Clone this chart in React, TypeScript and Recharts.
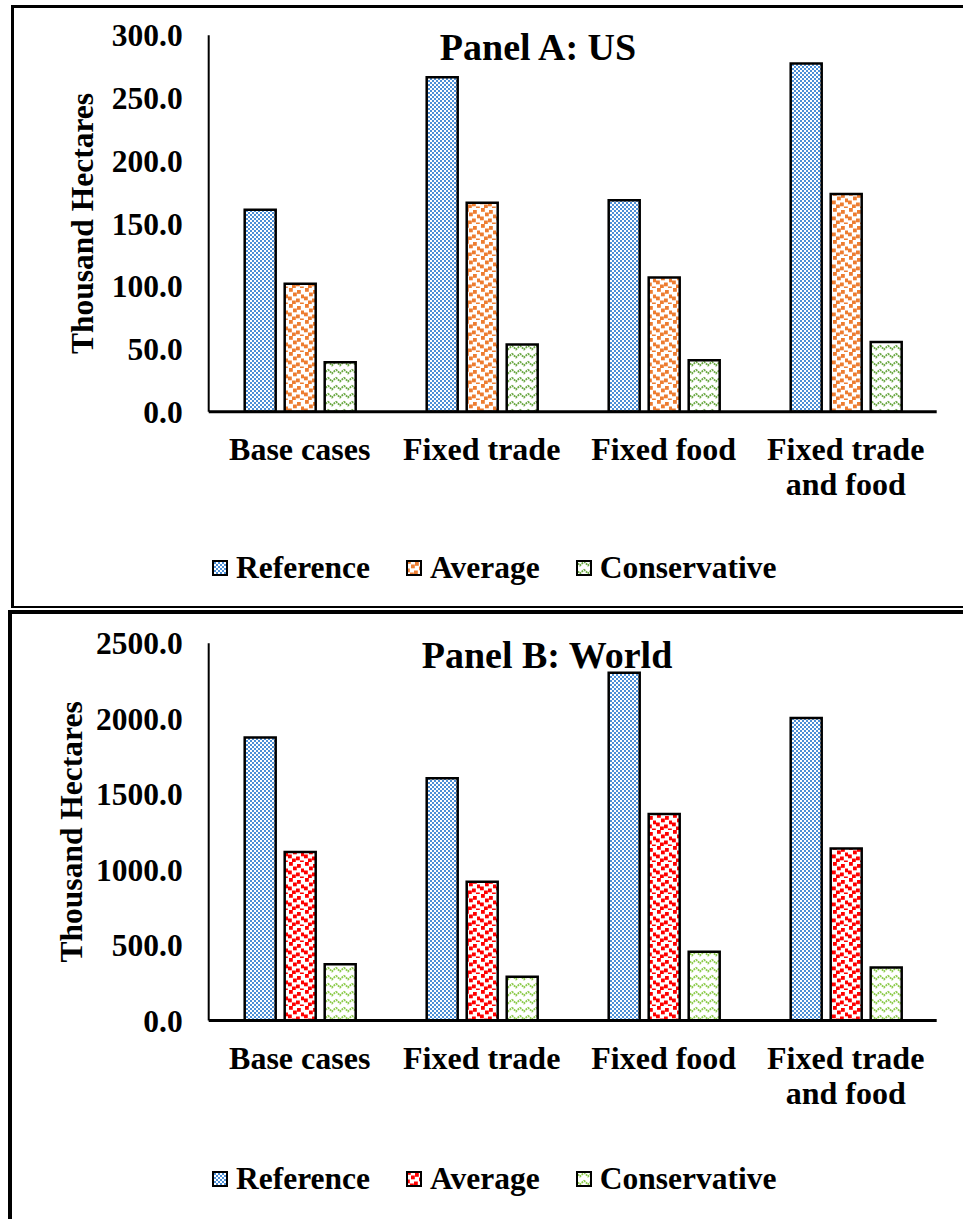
import React from 'react'
import { BarChart, Bar, XAxis, YAxis } from 'recharts'

const categories = ['Base cases', 'Fixed trade', 'Fixed food', 'Fixed trade and food']
const seriesNames = ['Reference', 'Average', 'Conservative']

const usReference = [161, 266.5, 168.5, 277.5]
const usAverage = [102, 166.5, 107, 173.5]
const usConservative = [39.5, 53.5, 41, 55.5]
const usTicks = [0, 50, 100, 150, 200, 250, 300]

const worldReference = [1875, 1605, 2305, 2005]
const worldAverage = [1117, 920, 1368, 1140]
const worldConservative = [372, 290, 455, 352]
const worldTicks = [0, 500, 1000, 1500, 2000, 2500]

const FONT = '"Liberation Serif", "Times New Roman", serif'
const W = 963
const H = 606

const toRows = (ref: number[], avg: number[], con: number[]) =>
  categories.map((name, i) => ({ name, reference: ref[i], average: avg[i], conservative: con[i] }))

const usData = toRows(usReference, usAverage, usConservative)
const worldData = toRows(worldReference, worldAverage, worldConservative)

// pattern fills, shared by bars and legend swatches
function PatternDefs() {
  const confetti = [
    [1, 0], [9, 2], [5, 4.5], [13, 6.5], [0, 8.5], [8, 10.5], [4, 12.5], [12, 14.5],
  ]
  const pat = (id: string, color: string) => (
    <pattern id={id} width={16} height={16} patternUnits="userSpaceOnUse">
      <rect width={16} height={16} fill="#fff" />
      {confetti.map(([x, y], i) => (
        <rect key={i} x={x} y={y} width={3.8} height={3.8} fill={color} />
      ))}
    </pattern>
  )
  const zig = (id: string, color: string) => (
    <pattern id={id} width={8} height={8} patternUnits="userSpaceOnUse">
      <rect width={8} height={8} fill="#fff" />
      <path d="M0,1.5 L4,5.5 L8,1.5" fill="none" stroke={color} strokeWidth={1.8} strokeDasharray="1.8 0.9" />
      <path d="M0,9.5 L4,13.5 L8,9.5" fill="none" stroke={color} strokeWidth={1.8} strokeDasharray="1.8 0.9" />
    </pattern>
  )
  return (
    <svg width={0} height={0} style={{ position: 'absolute' }}>
      <defs>
        <pattern id="pRef" width={4} height={4} patternUnits="userSpaceOnUse">
          <rect width={4} height={4} fill="#fff" />
          <rect width={2} height={2} fill="#4D8FD6" />
          <rect x={2} y={2} width={2} height={2} fill="#4D8FD6" />
        </pattern>
        {pat('pAvgA', '#ED7D31')}
        {pat('pAvgB', '#FF0000')}
        {zig('pConA', '#6AA842')}
        {zig('pConB', '#8CCB4A')}
      </defs>
    </svg>
  )
}

function CategoryTick(props: any) {
  const { x, y, payload } = props
  const words = String(payload.value).split(' ')
  const lines: string[] = []
  words.forEach((w) => {
    const last = lines[lines.length - 1]
    if (last && (last + ' ' + w).length <= 12) lines[lines.length - 1] = last + ' ' + w
    else lines.push(w)
  })
  return (
    <text x={x} y={y} textAnchor="middle" fill="#000" fontFamily={FONT} fontWeight={700} fontSize={32}>
      {lines.map((l, i) => (
        <tspan key={i} x={x} dy={i === 0 ? 48 : 35}>{l}</tspan>
      ))}
    </text>
  )
}

type PanelProps = {
  top: number
  title: string
  titleX: number
  labelX: number
  data: any[]
  ticks: number[]
  plotTop: number
  plotBottom: number
  avgFill: string
  conFill: string
  legendTop: number
}

function Panel(p: PanelProps) {
  const fills = ['url(#pRef)', p.avgFill, p.conFill]
  const max = p.ticks[p.ticks.length - 1]
  return (
    <>
      <div style={{ position: 'absolute', left: 0, top: p.top }}>
        <BarChart
          width={W}
          height={H}
          data={p.data}
          barGap={9}
          margin={{ top: p.plotTop, right: W - 936.7, bottom: H - p.plotBottom - 60, left: 108.7 }}
        >
          <XAxis
            dataKey="name"
            height={60}
            tickLine={false}
            tickSize={0}
            tickMargin={0}
            axisLine={{ stroke: '#000', strokeWidth: 3 }}
            tick={<CategoryTick />}
            interval={0}
          />
          <YAxis
            width={100}
            domain={[0, max]}
            ticks={p.ticks}
            tickFormatter={(v: number) => v.toFixed(1)}
            tickLine={false}
            tickSize={0}
            tickMargin={26}
            axisLine={{ stroke: '#000', strokeWidth: 2 }}
            tick={{ fill: '#000', fontSize: 31.5, fontWeight: 700, fontFamily: FONT }}
          />
          <Bar dataKey="reference" fill={fills[0]} stroke="#000" strokeWidth={2.5} barSize={31} isAnimationActive={false} />
          <Bar dataKey="average" fill={fills[1]} stroke="#000" strokeWidth={2.5} barSize={31} isAnimationActive={false} />
          <Bar dataKey="conservative" fill={fills[2]} stroke="#000" strokeWidth={2.5} barSize={31} isAnimationActive={false} />
        </BarChart>
      </div>
      <svg width={W} height={H} style={{ position: 'absolute', left: 0, top: p.top, pointerEvents: 'none' }}>
        <text x={p.titleX} y={p.plotTop + 25} textAnchor="middle" fontFamily={FONT} fontWeight={700} fontSize={38} fill="#000">
          {p.title}
        </text>
        <text
          transform={`translate(${p.labelX}, ${(p.plotTop + p.plotBottom) / 2}) rotate(-90)`}
          textAnchor="middle"
          fontFamily={FONT}
          fontWeight={700}
          fontSize={31.5}
          fill="#000"
        >
          Thousand Hectares
        </text>
      </svg>
      <div
        style={{
          position: 'absolute',
          left: 212,
          top: p.top + p.legendTop,
          height: 36,
          display: 'flex',
          alignItems: 'center',
          gap: 36,
          fontFamily: FONT,
          fontWeight: 700,
          fontSize: 31.5,
          lineHeight: '36px',
          whiteSpace: 'nowrap',
        }}
      >
        {seriesNames.map((n, i) => (
          <div key={n} style={{ display: 'flex', alignItems: 'center' }}>
            <svg width={16} height={16} style={{ marginRight: 8 }}>
              <rect x={1} y={1} width={14} height={14} fill={fills[i]} stroke="#000" strokeWidth={2} />
            </svg>
            <span>{n}</span>
          </div>
        ))}
      </div>
    </>
  )
}

export default function App() {
  return (
    <div style={{ position: 'absolute', left: 0, top: 0, width: W, height: 1219, overflow: 'hidden', background: '#fff' }}>
      <PatternDefs />
      {/* panel frames */}
      <div style={{ position: 'absolute', left: 11, top: 5, width: 980, height: 598, borderTop: '3px solid #000', borderLeft: '3px solid #000', borderBottom: '2px solid #000' }} />
      <div style={{ position: 'absolute', left: 8, top: 610, width: 980, height: 700, borderTop: '4px solid #000', borderLeft: '4px solid #000' }} />
      <Panel
        top={0}
        title="Panel A: US"
        titleX={538}
        labelX={93}
        data={usData}
        ticks={usTicks}
        plotTop={35.3}
        plotBottom={411.7}
        avgFill="url(#pAvgA)"
        conFill="url(#pConA)"
        legendTop={550}
      />
      <Panel
        top={606}
        title="Panel B: World"
        titleX={547}
        labelX={82}
        data={worldData}
        ticks={worldTicks}
        plotTop={37.3}
        plotBottom={414.5}
        avgFill="url(#pAvgB)"
        conFill="url(#pConB)"
        legendTop={1161 - 606}
      />
    </div>
  )
}
